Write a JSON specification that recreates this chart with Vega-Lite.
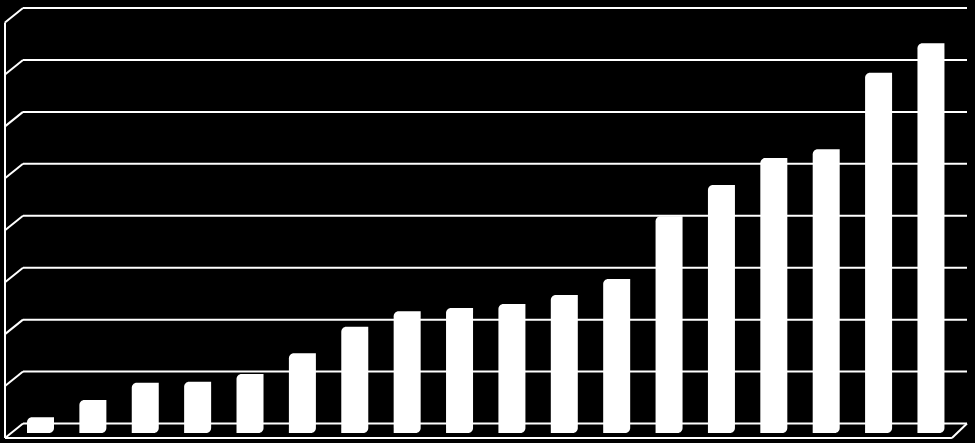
{
  "$schema": "https://vega.github.io/schema/vega-lite/v6.json",
  "autosize": {"type": "none"},
  "padding": {"left": 5, "top": 8, "right": 8, "bottom": 5},
  "width": 962,
  "height": 430,
  "background": "#000000",
  "config": {"view": {"stroke": null}},
  "datasets": {
    "bars": [
      {"i": 1, "value": 0.19},
      {"i": 2, "value": 0.52},
      {"i": 3, "value": 0.85},
      {"i": 4, "value": 0.87},
      {"i": 5, "value": 1.02},
      {"i": 6, "value": 1.42},
      {"i": 7, "value": 1.93},
      {"i": 8, "value": 2.23},
      {"i": 9, "value": 2.29},
      {"i": 10, "value": 2.37},
      {"i": 11, "value": 2.54},
      {"i": 12, "value": 2.85},
      {"i": 13, "value": 4.06},
      {"i": 14, "value": 4.66},
      {"i": 15, "value": 5.18},
      {"i": 16, "value": 5.35},
      {"i": 17, "value": 6.82},
      {"i": 18, "value": 7.39}
    ],
    "grid": [
      {"v": 0}, {"v": 1}, {"v": 2}, {"v": 3}, {"v": 4},
      {"v": 5}, {"v": 6}, {"v": 7}, {"v": 8}
    ]
  },
  "resolve": {"scale": {"y": "independent"}},
  "layer": [
    {
      "data": {"name": "grid"},
      "mark": {"type": "rule", "color": "#ffffff", "strokeWidth": 2},
      "encoding": {
        "x": {"datum": 0.666, "type": "quantitative", "scale": {"domain": [0.3223, 18.688], "nice": false, "zero": false, "padding": 0}, "axis": null},
        "x2": {"datum": 18.688},
        "y": {"field": "v", "type": "quantitative", "scale": {"domain": [-0.279, 8], "nice": false, "zero": false, "padding": 0}, "axis": null}
      }
    },
    {
      "data": {"name": "grid"},
      "mark": {"type": "rule", "color": "#ffffff", "strokeWidth": 2, "yOffset": 14.5},
      "encoding": {
        "x": {"datum": 0.3223, "type": "quantitative"},
        "x2": {"datum": 0.666},
        "y": {"field": "v", "type": "quantitative", "scale": {"domain": [-0.279, 8], "nice": false, "zero": false, "padding": 0}, "axis": null},
        "y2": {"field": "v"}
      }
    },
    {
      "data": {"values": [{}]},
      "mark": {"type": "rule", "color": "#ffffff", "strokeWidth": 2, "yOffset": 14.5, "y2Offset": 14.5},
      "encoding": {
        "x": {"datum": 0.3223, "type": "quantitative"},
        "y": {"datum": 8, "type": "quantitative", "scale": {"domain": [-0.279, 8], "nice": false, "zero": false, "padding": 0}, "axis": null},
        "y2": {"datum": 0}
      }
    },
    {
      "data": {"values": [{}]},
      "mark": {"type": "rule", "color": "#ffffff", "strokeWidth": 2, "yOffset": 14.5},
      "encoding": {
        "x": {"datum": 0.3223, "type": "quantitative"},
        "x2": {"datum": 18.40},
        "y": {"datum": 0, "type": "quantitative", "scale": {"domain": [-0.279, 8], "nice": false, "zero": false, "padding": 0}, "axis": null}
      }
    },
    {
      "data": {"values": [{}]},
      "mark": {"type": "rule", "color": "#ffffff", "strokeWidth": 2, "yOffset": 14.5},
      "encoding": {
        "x": {"datum": 18.40, "type": "quantitative"},
        "x2": {"datum": 18.688},
        "y": {"datum": 0, "type": "quantitative", "scale": {"domain": [-0.279, 8], "nice": false, "zero": false, "padding": 0}, "axis": null},
        "y2": {"datum": 0}
      }
    },
    {
      "data": {"name": "bars"},
      "mark": {"type": "bar", "color": "#ffffff", "size": 27, "yOffset": -6, "cornerRadiusTopLeft": 5, "cornerRadiusBottomRight": 5},
      "encoding": {
        "x": {"field": "i", "type": "quantitative"},
        "y": {"field": "value", "type": "quantitative", "scale": {"domain": [-0.0963, 8.183], "nice": false, "zero": false, "padding": 0}, "axis": null},
        "y2": {"datum": 0}
      }
    }
  ]
}
